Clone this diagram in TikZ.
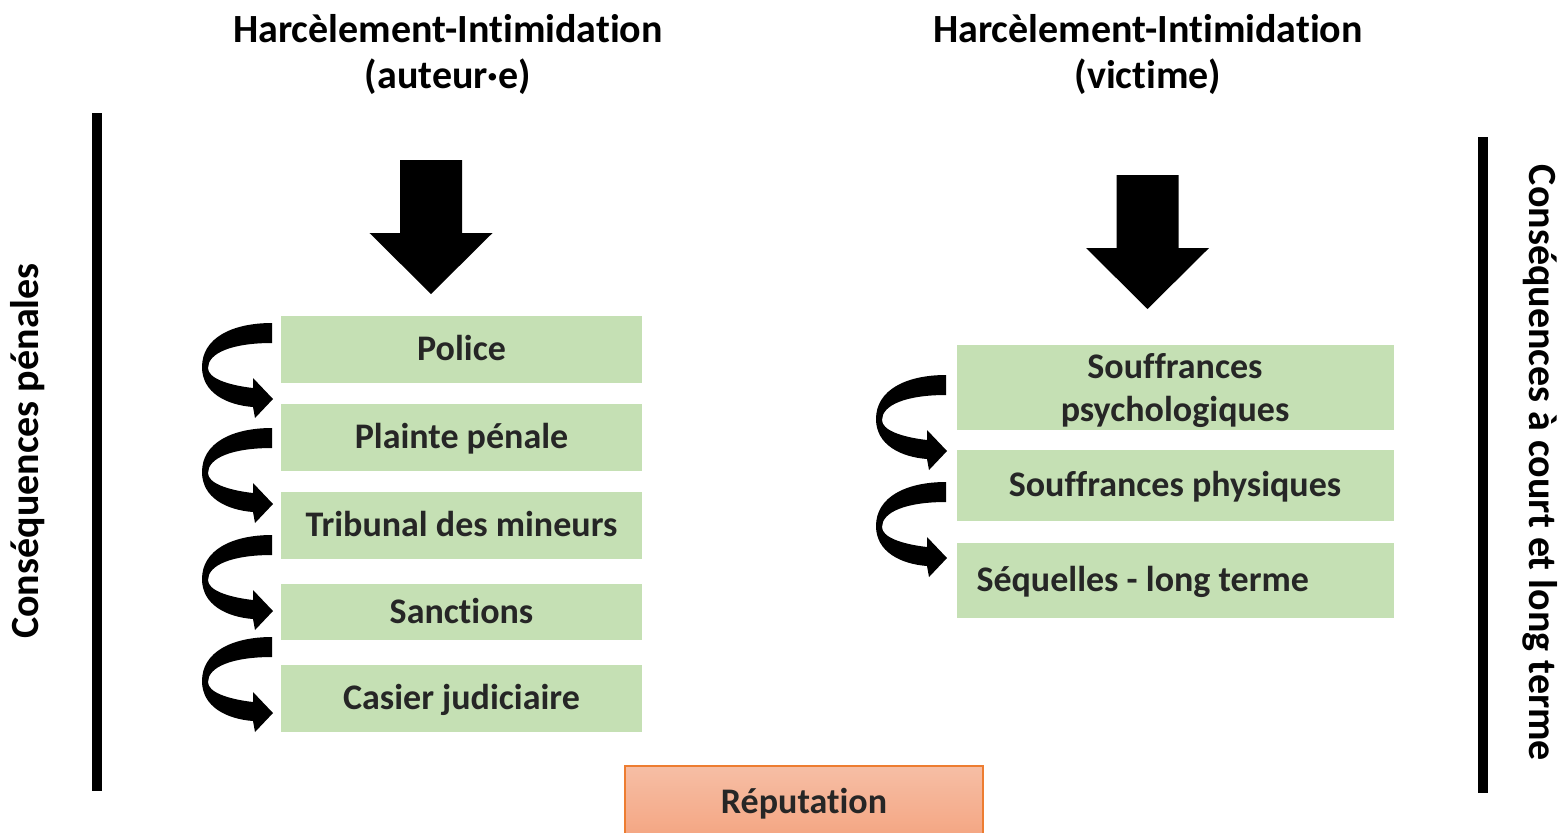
\documentclass[tikz,border=0pt]{standalone}
\usepackage{fontspec}
\setmainfont{Carlito}[Ligatures=NoCommon]
\usetikzlibrary{shapes,arrows,positioning}
\definecolor{boxgreen}{HTML}{C5E0B4}
\definecolor{txtgray}{HTML}{262626}
\definecolor{orangeline}{HTML}{ED7D31}
\definecolor{reptop}{HTML}{F6BEA5}
\definecolor{repbottom}{HTML}{F4A480}
\tikzset{
  title/.style = {align=center, font=\fontsize{20}{23}\selectfont\bfseries},
  block/.style = {fill=boxgreen, rectangle, text=txtgray, align=center,
      minimum width=180.5pt, minimum height=33.5pt, inner sep=0pt,
      font=\fontsize{18}{21.5}\selectfont\bfseries},
  oneline/.style = {text height=14pt, text depth=3pt},
  sidelabel/.style = {font=\fontsize{20}{24}\selectfont\bfseries},
  bar/.style = {line width=5pt},
  bigarrow/.pic = {
    \fill (-31,0) -- (31,0) -- (31,73) -- (61.5,73) -- (0,134)
      -- (-61.5,73) -- (-31,73) -- cycle;
  },
  curvarrow/.pic = {
    \fill (0,0) .. controls (-40,0) and (-70,15) .. (-70,44)
      .. controls (-70,70) and (-45,82) .. (-19,84) -- (-17,95) -- (1,76)
      -- (-19,55) -- (-19,65) .. controls (-45,62) and (-64,55) .. (-64,45)
      .. controls (-64,30) and (-40,20) .. (0,20) -- cycle;
  }
}

\begin{document}
\begin{tikzpicture}[x=0.5pt, y=-0.5pt, >=latex']
\useasboundingbox (0,0) rectangle (1562,832);

% titles
\node [title] (titleL) at (448,54) {Harcèlement-Intimidation\\(auteur·e)};
\node [title] (titleR) at (1148,54) {Harcèlement-Intimidation\\(victime)};

% big arrows
\pic (arrowL) at (431,160) {bigarrow};
\pic (arrowR) at (1147.5,175) {bigarrow};

% left column
\node [block, oneline] (police) at (461.5,349.5) {Police};
\node [block, oneline, below=10pt of police] (plainte) {Plainte pénale};
\node [block, oneline, below=10pt of plainte] (tribunal) {Tribunal des mineurs};
\node [block, oneline, below=12.5pt of tribunal, minimum height=28pt] (sanctions) {Sanctions};
\node [block, oneline, below=12pt of sanctions] (casier) {Casier judiciaire};

% right column
\node [block, minimum width=218.5pt, minimum height=42.5pt] (psycho) at (1175,387.5) {\rule{0pt}{15.6pt}Souffrances\\psychologiques};
\node [block, oneline, minimum width=218.5pt, minimum height=35.5pt, below=9.5pt of psycho] (physique) {Souffrances physiques};
\node [block, oneline, text width=198.5pt, inner xsep=10pt, align=flush left, minimum height=37.5pt, below=10.5pt of physique] (sequelles) {Séquelles - long terme};

% curved arrows
\pic at (272,323) {curvarrow};
\pic at (272,428) {curvarrow};
\pic at (272,535) {curvarrow};
\pic at (272,637) {curvarrow};
\pic at (946,375) {curvarrow};
\pic at (946,482) {curvarrow};

% reputation
\node [rectangle, draw=orangeline, line width=0.75pt, top color=reptop, bottom color=repbottom,
  minimum width=179pt, minimum height=38pt, text=txtgray,
  font=\fontsize{18}{20}\selectfont\bfseries] (reputation) at (804,804) {Réputation};

% side bars and labels
\coordinate (barLtop) at (97,113);
\coordinate (barLbot) at (97,791);
\coordinate (barRtop) at (1483,137);
\coordinate (barRbot) at (1483,793);
\draw [bar] (barLtop) -- (barLbot);
\draw [bar] (barRtop) -- (barRbot);
\node [sidelabel, rotate=90] (labelL) at (28,451) {Conséquences pénales};
\node [sidelabel, rotate=-90] (labelR) at (1540,463) {Conséquences à court et long terme};

\end{tikzpicture}
\end{document}
